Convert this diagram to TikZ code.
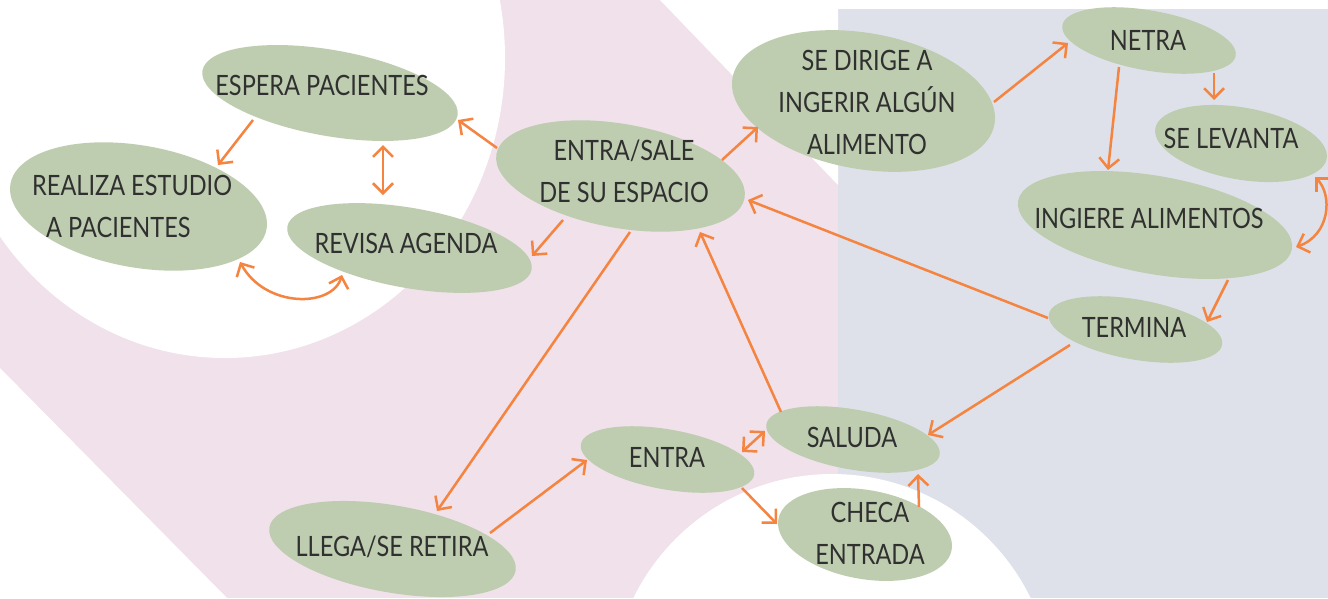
\documentclass[tikz,border=0pt]{standalone}
\usepackage{fontspec}
\setmainfont{Lato}[FakeStretch=0.84]
\usetikzlibrary{arrows.meta,shapes.geometric}
\definecolor{pinkbg}{HTML}{F0E1EB}
\definecolor{bluebg}{HTML}{DFE1EA}
\definecolor{sage}{HTML}{BECDAF}
\definecolor{arrowc}{HTML}{F4843F}
\definecolor{txt}{HTML}{303030}
\begin{document}
\begin{tikzpicture}[x=1pt,y=-1pt,
  bub/.style={ellipse, fill=sage, draw=none, inner sep=0pt, rotate=-10},
  lbl/.style={text=txt, font=\fontsize{28}{42}\selectfont, align=center, inner sep=0pt},
  tip/.tip={Straight Barb[length=10pt,width=20pt]},
  arr/.style={draw=arrowc, line width=2.5pt, -tip},
  darr/.style={draw=arrowc, line width=2.5pt, tip-tip}]
\useasboundingbox (0,0) rectangle (1328,598);
\clip (0,0) rectangle (1328,598);
% background
\fill[white] (0,0) rectangle (1328,598);
\fill[pinkbg] (0,0) rectangle (838,598);
\fill[bluebg] (838,9) rectangle (1328,598);
\fill[white] (225,58) ellipse [x radius=280, y radius=300];
\fill[white] (660,0) -- (838,0) -- (838,185) -- cycle;
\fill[white] (0,368) -- (227,598) -- (0,598) -- cycle;
\fill[white] (832,695) circle [radius=221];
% bubbles
\node[bub, minimum width=259pt, minimum height=86pt]  (esp)   at (330,93) {};
\node[bub, minimum width=260pt, minimum height=122pt] (real)  at (138.5,206.5) {};
\node[bub, minimum width=248pt, minimum height=80pt]  (rev)   at (409.5,248) {};
\node[bub, minimum width=252pt, minimum height=104pt] (es)    at (620.5,176) {};
\node[bub, minimum width=266pt, minimum height=136pt] (dir)   at (863.5,101) {};
\node[bub, minimum width=176pt, minimum height=60pt]  (netra) at (1149,40.5) {};
\node[bub, minimum width=174pt, minimum height=72pt]  (lev)   at (1241,143.5) {};
\node[bub, minimum width=278pt, minimum height=98pt]  (ing)   at (1155,225) {};
\node[bub, minimum width=176pt, minimum height=60pt]  (term)  at (1135.5,329.5) {};
\node[bub, minimum width=176pt, minimum height=60pt]  (sal)   at (853,439.5) {};
\node[bub, minimum width=176pt, minimum height=60pt]  (entra) at (667.5,459.5) {};
\node[bub, minimum width=176pt, minimum height=89pt]  (checa) at (865,534.5) {};
\node[bub, minimum width=250pt, minimum height=87pt]  (llega) at (392.5,549) {};
% labels
\node[lbl] (tesp) at (322,85) {ESPERA PACIENTES};
\node[lbl, align=left, anchor=west] (treal) at (32,206) {REALIZA ESTUDIO\\\hspace*{14pt}A PACIENTES};
\node[lbl] (trev) at (406,243) {REVISA AGENDA};
\node[lbl] (tes) at (624,171.5) {ENTRA/SALE\\DE SU ESPACIO};
\node[lbl] (tdir) at (867,102) {SE DIRIGE A\\INGERIR ALGÚN\\ALIMENTO};
\node[lbl] (tnetra) at (1148,40) {NETRA};
\node[lbl] (tlev) at (1231,138) {SE LEVANTA};
\node[lbl] (ting) at (1149,218) {INGIERE ALIMENTOS};
\node[lbl] (tterm) at (1134,327) {TERMINA};
\node[lbl] (tsal) at (852,437) {SALUDA};
\node[lbl] (tentra) at (667,457) {ENTRA};
\node[lbl] (tcheca) at (870,533.5) {CHECA\\ENTRADA};
\node[lbl] (tllega) at (392,547) {LLEGA/SE RETIRA};
% connectors
\draw[arr] ([shift={(-77,27)}]esp.center) -- ([shift={(79.5,-41.5)}]real.center);
\draw[arr] ([shift={(-123.5,-28)}]es.center) -- ([shift={(128,27)}]esp.center);
\draw[darr] ([shift={(53,52)}]esp.center) -- ([shift={(-26.5,-53)}]rev.center);
\draw[darr] ([shift={(101.5,55.5)}]real.center) .. controls (265,308) and (332,308) .. ([shift={(-67.5,27)}]rev.center);
\draw[arr] ([shift={(-57.5,44)}]es.center) -- ([shift={(122.5,8)}]rev.center);
\draw[arr] ([shift={(101.5,-16)}]es.center) -- ([shift={(-105.5,26)}]dir.center);
\draw[arr] ([shift={(130.5,1)}]dir.center) -- ([shift={(-81,2.5)}]netra.center);
\draw[arr] ([shift={(-30,26.5)}]netra.center) -- ([shift={(-47,-55)}]ing.center);
\draw[arr] ([shift={(65,32.5)}]netra.center) -- ([shift={(-27,-43.5)}]lev.center);
\draw[darr] ([shift={(74,33.5)}]lev.center) .. controls (1333,195) and (1330,235) .. ([shift={(141,22)}]ing.center);
\draw[arr] ([shift={(73,55)}]ing.center) -- ([shift={(71.5,-7.5)}]term.center);
\draw[arr] ([shift={(-87.5,-11.5)}]term.center) -- ([shift={(127.5,24)}]es.center);
\draw[arr] ([shift={(-65.5,15.5)}]term.center) -- ([shift={(75,-4.5)}]sal.center);
\draw[arr] ([shift={(-72,-27.5)}]sal.center) -- ([shift={(79.5,56)}]es.center);
\draw[arr] ([shift={(9.5,56)}]es.center) -- ([shift={(44.5,-38)}]llega.center);
\draw[arr] ([shift={(97.5,-16)}]llega.center) -- ([shift={(-80.5,0.5)}]entra.center);
\draw[darr] ([shift={(74.5,-7.5)}]entra.center) -- ([shift={(-88,-8.5)}]sal.center);
\draw[arr] ([shift={(74.5,28.5)}]entra.center) -- ([shift={(-88,-10.5)}]checa.center);
\draw[arr] ([shift={(54,-27.5)}]checa.center) -- ([shift={(65,34.5)}]sal.center);
\end{tikzpicture}
\end{document}
